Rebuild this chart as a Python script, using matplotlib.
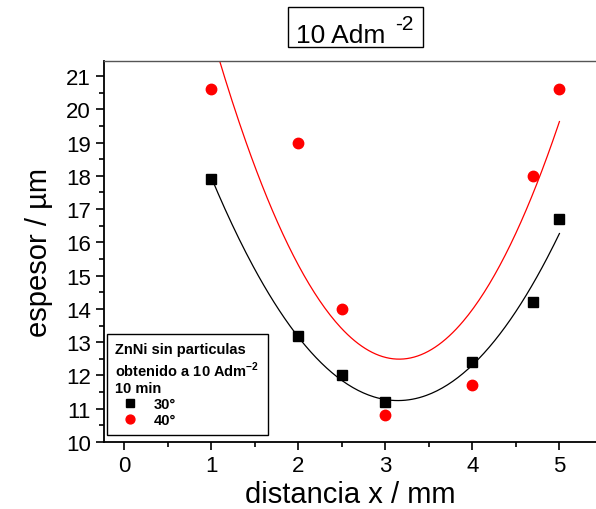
import numpy as np
import matplotlib.pyplot as plt
from matplotlib.patches import Rectangle
from matplotlib.ticker import MultipleLocator

plt.rcParams["font.family"] = ["Liberation Sans", "DejaVu Sans"]

# distances (mm) and thicknesses (um)
x_30 = [1, 2, 2.5, 3, 4, 4.7, 5]
y_30 = [17.9, 13.2, 12.0, 11.2, 12.4, 14.2, 16.7]
x_40 = [1, 2, 2.5, 3, 4, 4.7, 5]
y_40 = [20.6, 19.0, 14.0, 10.8, 11.7, 18.0, 20.6]

fig = plt.figure(figsize=(5.96, 5.10), dpi=100)
ax = fig.add_axes([0.1745, 0.1314, 0.8255, 0.747])

# quadratic fits, as in the original
xf = np.linspace(1, 5, 200)
fit_30 = np.polyval(np.polyfit(x_30, y_30, 2), xf)
fit_40 = np.polyval(np.polyfit(x_40, y_40, 2), xf)
ax.plot(xf, fit_30, color="black", lw=0.9)
ax.plot(xf, fit_40, color="red", lw=0.9)

ax.plot(x_30, y_30, "s", color="black", ms=7, ls="none", label="30°")
ax.plot(x_40, y_40, "o", color="red", ms=7.5, ls="none", label="40°")

ax.set_xlim(-0.23, 5.42)
ax.set_ylim(10, 21.45)
ax.xaxis.set_major_locator(MultipleLocator(1))
ax.xaxis.set_minor_locator(MultipleLocator(0.5))
ax.yaxis.set_major_locator(MultipleLocator(1))
ax.yaxis.set_minor_locator(MultipleLocator(0.5))
ax.tick_params(which="major", direction="out", length=6, width=1.2, labelsize=16)
ax.tick_params(which="minor", direction="out", length=3.5, width=1.2)
ax.spines["right"].set_visible(False)
ax.spines["left"].set_linewidth(1.3)
ax.spines["bottom"].set_linewidth(1.3)
ax.spines["top"].set_linewidth(1.0)
ax.spines["top"].set_color("#555555")

ax.set_xlabel("distancia x / mm", fontsize=21, labelpad=3)
ax.set_ylabel("espesor / µm", fontsize=21, labelpad=9)

# boxed title
fig.patches.append(Rectangle((0.4832, 0.9059), 0.2265, 0.0784, transform=fig.transFigure,
                             fill=False, ec="black", lw=1))
fig.text(0.497, 0.9157, "10 Adm", fontsize=19, ha="left", va="baseline")
fig.text(0.663, 0.941, "-2", fontsize=15, ha="left", va="baseline")

leg = ax.legend(title="ZnNi sin particulas\nobtenido a 10 Adm$^{\\mathregular{-2}}$\n10 min",
                loc="lower left", bbox_to_anchor=(0.007, 0.018), borderaxespad=0,
                fancybox=False, edgecolor="black", framealpha=1,
                prop=dict(weight="bold", size=10.5),
                title_fontproperties=dict(weight="bold", size=10.5), alignment="left",
                handletextpad=0.6, borderpad=0.55, labelspacing=0.15, markerscale=0.85)
leg.get_frame().set_linewidth(1.0)

fig.savefig("out.png", dpi=100)
